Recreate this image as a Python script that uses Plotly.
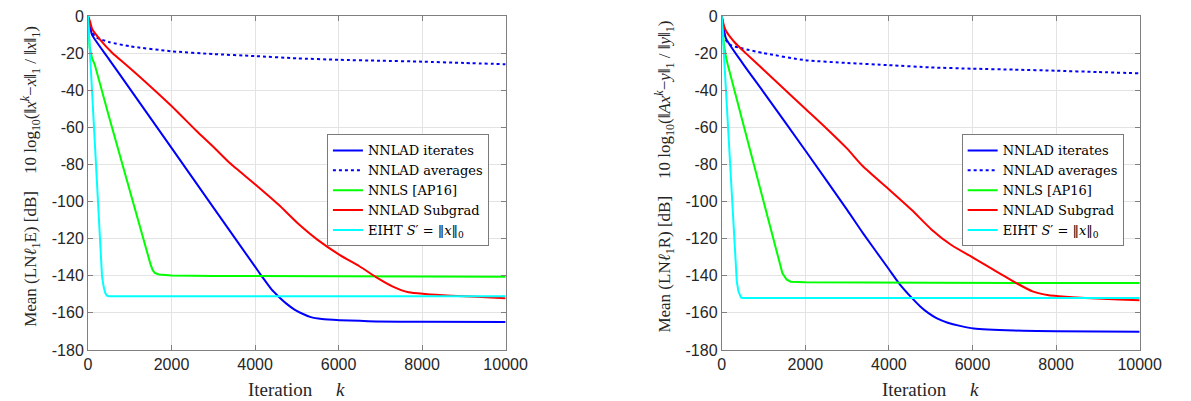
import plotly.graph_objects as go

# ---------------- data ----------------
x_ticks = [0, 2000, 4000, 6000, 8000, 10000]
x_tick_labels = ["0", "2000", "4000", "6000", "8000", "10000"]
y_ticks = [0, -20, -40, -60, -80, -100, -120, -140, -160, -180]
y_tick_labels = ["0", "-20", "-40", "-60", "-80", "-100", "-120", "-140", "-160", "-180"]

series_names = ["NNLAD iterates", "NNLAD averages", "NNLS [AP16]", "NNLAD Subgrad",
                "EIHT <i>S</i>′ = ‖<i>x</i>‖<sub>0</sub>"]

# Left panel (LNl1E)
e_iter_k = [0, 30, 60, 100, 500, 1000, 2000, 3000, 4000, 4163, 4400, 4554, 4750, 4945, 5150, 5335, 5600,
            6023, 6500, 6897, 8000, 10000]
e_iter_db = [0, -4, -7, -10.3, -23.2, -39.1, -71.1, -103.1, -135.1, -140.3, -147.5, -151, -155, -158.2,
             -160.6, -162.3, -163.3, -163.9, -164.3, -164.6, -164.8, -164.9]
e_avg_k = [0, 20, 50, 100, 200, 500, 1000, 2000, 3000, 4000, 5000, 6000, 7000, 8000, 9000, 10000]
e_avg_db = [0, -3, -6, -9, -11.5, -14, -16.3, -19, -20.5, -21.6, -22.8, -23.6, -24.1, -24.6, -25.3, -26]
e_nnls_k = [0, 20, 40, 100, 160, 500, 1000, 1400, 1500, 1550, 1600, 1700, 2000, 3000, 5000, 7000, 10000]
e_nnls_db = [0, -12, -17, -23, -26, -54, -94, -127, -134, -137, -138.5, -139.3, -139.8, -140.1, -140.3,
             -140.3, -140.5]
e_sub_k = [0, 50, 100, 300, 572, 1000, 1429, 2000, 2600, 3000, 3382, 4007, 4554, 5022, 5491, 6023, 6507,
           6897, 7288, 7678, 8069, 8700, 9300, 10000]
e_sub_db = [0, -3, -7, -13, -19.7, -28, -36.6, -48.5, -62, -70.5, -79, -90.8, -101.5, -111.7, -120.5,
            -128.7, -135, -140.7, -145.7, -148.9, -149.8, -150.7, -151.3, -152.1]
e_eiht_k = [0, 100, 200, 300, 336, 380, 420, 453, 500, 10000]
e_eiht_db = [0, -41.7, -83.3, -125, -140.3, -146.5, -149.6, -150.7, -151, -151]

# Right panel (LNl1R)
r_iter_k = [0, 50, 100, 500, 1000, 2000, 3000, 3378, 4000, 4237, 4548, 4750, 4939, 5150, 5407, 5700, 6030,
            7000, 8000, 10000]
r_iter_db = [0, -7, -12, -25.5, -41, -72.5, -104.5, -117, -136.5, -143.9, -151.9, -156.5, -160, -163,
             -165.3, -167, -168.4, -169.5, -169.9, -170.2]
r_avg_k = [0, 20, 50, 100, 200, 500, 1000, 2000, 3000, 4000, 5000, 6000, 7000, 8000, 9000, 10000]
r_avg_db = [0, -4, -9, -13, -15.5, -17.5, -20, -23.8, -25.3, -26.5, -27.7, -28.4, -28.9, -29.5, -30.2, -30.9]
r_nnls_k = [0, 50, 100, 141, 500, 1000, 1300, 1450, 1550, 1650, 2000, 5000, 10000]
r_nnls_db = [0, -15, -22, -26, -57, -100, -126, -138.5, -142, -143.2, -143.5, -143.8, -143.9]
r_sub_k = [0, 50, 100, 300, 572, 1000, 1429, 2000, 2500, 3000, 3378, 4017, 4548, 5016, 5485, 6030, 6498,
           7046, 7435, 7826, 8060, 8700, 9500, 10000]
r_sub_db = [0, -5, -8, -14, -20, -29, -38, -50, -60.5, -71.5, -81, -93.8, -104.6, -115, -123.3, -130.5,
            -136.7, -143.9, -148.4, -150.5, -151, -152, -152.8, -153.2]
r_eiht_k = [0, 100, 200, 300, 360, 400, 430, 460, 500, 10000]
r_eiht_db = [0, -40, -80, -120, -143, -148.5, -150.8, -151.7, -152, -152]

# ---------------- styling ----------------
colors = ["#0000ff", "#0000ff", "#00ff00", "#ff0000", "#00ffff"]
dashes = ["solid", "dot", "solid", "solid", "solid"]
shapes = ["spline", "spline", "linear", "spline", "linear"]
axis_gray = "#808080"
grid_gray = "#e3e3e3"
tick_font = dict(family="Liberation Sans, Arial, sans-serif", size=16, color="#262626")
serif = "Liberation Serif, Times New Roman, serif"

OFF = 8                     # page body margin of the html page
W, H = 1191 - OFF, 401 - OFF
top, bottom = 15 - OFF, 350.5 - OFF
plot_h = bottom - top

def px(xpix):
    return (xpix - OFF) / W

def py(ypix):
    return (bottom - (ypix - OFF)) / plot_h

fig = go.Figure()

panels = [
    ("x", "y", "legend", [(e_iter_k, e_iter_db), (e_avg_k, e_avg_db), (e_nnls_k, e_nnls_db),
                          (e_sub_k, e_sub_db), (e_eiht_k, e_eiht_db)]),
    ("x2", "y2", "legend2", [(r_iter_k, r_iter_db), (r_avg_k, r_avg_db), (r_nnls_k, r_nnls_db),
                             (r_sub_k, r_sub_db), (r_eiht_k, r_eiht_db)]),
]
for xa, ya, lg, data in panels:
    for i, (kk, vv) in enumerate(data):
        line = dict(color=colors[i], width=2, dash=dashes[i], shape=shapes[i])
        if shapes[i] == "spline":
            line["smoothing"] = 0.6
        fig.add_trace(go.Scatter(
            x=kk, y=vv, mode="lines", name=series_names[i], line=line,
            xaxis=xa, yaxis=ya, legend=lg, showlegend=True))

def xax(domain, anchor):
    return dict(domain=domain, anchor=anchor, range=[0, 10000], tickvals=x_ticks, ticktext=x_tick_labels,
                showgrid=True, gridcolor=grid_gray, zeroline=False, showline=True, linecolor=axis_gray,
                linewidth=1, mirror="ticks", ticks="inside", ticklen=5, tickcolor=axis_gray,
                tickfont=tick_font, ticklabeloverflow="allow")

def yax(anchor):
    return dict(domain=[0, 1], anchor=anchor, range=[-180, 0], tickvals=y_ticks, ticktext=y_tick_labels,
                showgrid=True, gridcolor=grid_gray, zeroline=False, showline=True, linecolor=axis_gray,
                linewidth=1, mirror="ticks", ticks="inside", ticklen=5, tickcolor=axis_gray,
                tickfont=tick_font, ticklabeloverflow="allow")

left_dom = [px(85.7), px(512.7)]
right_dom = [px(733.7), px(1161)]

legend_style = dict(font=dict(family="DejaVu Serif, serif", size=13, color="#000000"), bgcolor="#ffffff",
                    bordercolor="#7a7a7a", borderwidth=1, xanchor="left", yanchor="top",
                    tracegroupgap=0, itemwidth=30)

fig.update_layout(
    width=W, height=H,
    margin=dict(l=0, r=0, t=top, b=H - bottom),
    paper_bgcolor="#ffffff", plot_bgcolor="#ffffff",
    xaxis=xax(left_dom, "y"), yaxis=yax("x"),
    xaxis2=xax(right_dom, "y2"), yaxis2=yax("x2"),
    legend=dict(x=px(330), y=py(134), **legend_style),
    legend2=dict(x=px(979), y=py(134), **legend_style),
)

frac_e = ("‖<i>x</i><sup><i>k</i></sup>−<i>x</i>‖<sub>1</sub> / ‖<i>x</i>‖<sub>1</sub>")
frac_r = ("‖<i>Ax</i><sup><i>k</i></sup>−<i>y</i>‖<sub>1</sub> / ‖<i>y</i>‖<sub>1</sub>")
ylab_e = "Mean (LN<i>ℓ</i><sub>1</sub>E) [dB]    10 log<sub>10</sub>(" + frac_e + ")"
ylab_r = "Mean (LN<i>ℓ</i><sub>1</sub>R) [dB]    10 log<sub>10</sub>(" + frac_r + ")"

for xc, txt in [(px(27), ylab_e), (px(675), ylab_r)]:
    fig.add_annotation(x=xc, y=py(176), xref="paper", yref="paper", text=txt, textangle=-90,
                       showarrow=False, xanchor="center", yanchor="middle",
                       font=dict(family=serif, size=17, color="#262626"))

for xc in [(left_dom[0] + left_dom[1]) / 2, (right_dom[0] + right_dom[1]) / 2]:
    fig.add_annotation(x=xc, y=py(390), xref="paper", yref="paper",
                       text="Iteration     <i>k</i>", showarrow=False, xanchor="center", yanchor="middle",
                       font=dict(family=serif, size=19, color="#262626"))

fig.write_html("out.html")
